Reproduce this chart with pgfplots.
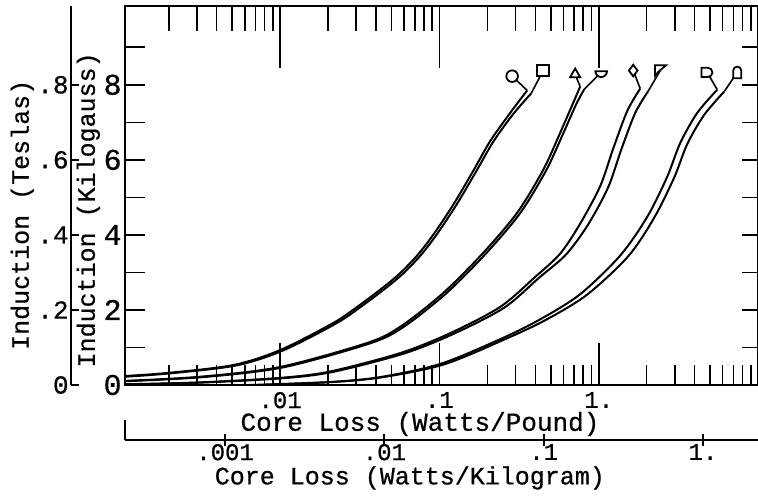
\documentclass[border=0pt]{standalone}
\usepackage{fontspec}
\setmainfont{Liberation Mono}[FakeBold=0.6]
\usepackage{pgfplots}
\pgfplotsset{compat=1.18}
\pgfdeclareplotmark{semi}{%
  \pgfpathmoveto{\pgfqpoint{-\pgfplotmarksize}{0.2\pgfplotmarksize}}%
  \pgfpathlineto{\pgfqpoint{\pgfplotmarksize}{0.2\pgfplotmarksize}}%
  \pgfpatharc{0}{-180}{\pgfplotmarksize}%
  \pgfpathclose
  \pgfusepathqfillstroke}
\pgfdeclareplotmark{dshape}{%
  \pgfpathmoveto{\pgfqpoint{-\pgfplotmarksize}{0.8\pgfplotmarksize}}%
  \pgfpathlineto{\pgfqpoint{0.1\pgfplotmarksize}{0.8\pgfplotmarksize}}%
  \pgfpatharc{90}{-90}{0.8\pgfplotmarksize}%
  \pgfpathlineto{\pgfqpoint{-\pgfplotmarksize}{-0.8\pgfplotmarksize}}%
  \pgfpathclose
  \pgfusepathqfillstroke}
\pgfdeclareplotmark{roundtop}{%
  \pgfpathmoveto{\pgfqpoint{-0.7\pgfplotmarksize}{-\pgfplotmarksize}}%
  \pgfpathlineto{\pgfqpoint{-0.7\pgfplotmarksize}{0.3\pgfplotmarksize}}%
  \pgfpatharc{180}{0}{0.7\pgfplotmarksize}%
  \pgfpathlineto{\pgfqpoint{0.7\pgfplotmarksize}{-\pgfplotmarksize}}%
  \pgfpathclose
  \pgfusepathqfillstroke}
\pgfdeclareplotmark{pennant}{%
  \pgfpathmoveto{\pgfqpoint{-0.9\pgfplotmarksize}{0.9\pgfplotmarksize}}%
  \pgfpathlineto{\pgfqpoint{\pgfplotmarksize}{0.9\pgfplotmarksize}}%
  \pgfpathlineto{\pgfqpoint{-0.3\pgfplotmarksize}{-0.2\pgfplotmarksize}}%
  \pgfpathlineto{\pgfqpoint{-0.9\pgfplotmarksize}{-0.9\pgfplotmarksize}}%
  \pgfpathclose
  \pgfusepathqfillstroke}
\tikzset{
  mycurve/.style={smooth, black, line width=1pt},
  mylead/.style={black, line width=0.8pt},
  mysym/.style={black, only marks, mark size=2.9pt, mark options={fill=white, line width=0.9pt}},
}
\begin{document}
\begin{tikzpicture}
\useasboundingbox (-62.5pt,-55.5pt) rectangle (316.5pt,192.5pt);
% main axis with data and bottom ticks
\begin{axis}[scale only axis, width=316.5pt, height=189.5pt,
  xmode=log, xmin=0.001063, xmax=10, ymin=0, ymax=10.1,
  axis line style={line width=1pt},
  tick style={line width=0.8pt, black}, tick align=inside,
  xtick={0.01,0.1,1}, xticklabels={.01,.1,1.}, xtick pos=left,
  minor xtick={0.002,0.003,0.004,0.005,0.006,0.007,0.008,0.009,0.02,0.03,0.04,0.05,0.06,0.07,0.08,0.09,0.2,0.3,0.4,0.5,0.6,0.7,0.8,0.9,2,3,4,5,6,7,8,9},
  ytick=\empty,
  major tick length=21pt, minor tick length=10pt,
  xticklabel style={font=\fontsize{12}{12}\selectfont},
  xlabel={Core Loss (Watts/Pound)},
  xlabel style={at={(axis description cs:0.466,-0.103)}, anchor=center, font=\fontsize{13}{15}\selectfont},
]
% pair 1
\addplot[mycurve] coordinates {(0.001063,0.24) (0.001952,0.32) (0.005068,0.53) (0.01,0.93) (0.02152,1.65) (0.03090,2.1) (0.04435,2.6) (0.05670,2.98) (0.07251,3.45) (0.09138,4.0) (0.1220,4.8) (0.1628,5.7) (0.2084,6.5) (0.2782,7.25) (0.3556,7.85)};
\addplot[mycurve] coordinates {(0.001063,0.22) (0.002039,0.31) (0.005294,0.52) (0.01044,0.92) (0.02247,1.64) (0.03226,2.09) (0.04631,2.59) (0.05922,2.97) (0.07571,3.44) (0.09541,3.99) (0.1274,4.79) (0.1701,5.69) (0.2176,6.48) (0.2906,7.22) (0.3768,7.77)};
% pair 2
\addplot[mycurve] coordinates {(0.001063,0.11) (0.003145,0.22) (0.01,0.48) (0.03518,1.12) (0.05670,1.55) (0.1056,2.45) (0.1883,3.52) (0.3078,4.59) (0.4482,5.73) (0.5729,6.72) (0.6917,7.52) (0.7653,7.95)};
\addplot[mycurve] coordinates {(0.001063,0.10) (0.003285,0.21) (0.01044,0.47) (0.03674,1.11) (0.05922,1.54) (0.1102,2.44) (0.1966,3.51) (0.3214,4.58) (0.4680,5.72) (0.5983,6.7) (0.7223,7.48) (0.8109,7.88)};
% pair 3
\addplot[mycurve] coordinates {(0.001063,0.02) (0.003145,0.07) (0.01,0.19) (0.02061,0.36) (0.05670,0.85) (0.1168,1.38) (0.2407,2.08) (0.3993,2.88) (0.5729,3.5) (0.7653,4.3) (1.0219,5.3) (1.2334,6.3) (1.5101,7.3) (1.8224,7.9)};
\addplot[mycurve] coordinates {(0.001063,0.01) (0.003237,0.065) (0.01044,0.18) (0.02152,0.35) (0.06009,0.84) (0.1238,1.37) (0.2550,2.06) (0.4230,2.86) (0.6248,3.48) (0.8592,4.28) (1.1472,5.27) (1.3847,6.27) (1.6953,7.25) (2.0455,7.83)};
% pair 4
\addplot[mycurve] coordinates {(0.006479,0) (0.02061,0.08) (0.04244,0.21) (0.1011,0.56) (0.2407,1.22) (0.4292,1.75) (0.7653,2.42) (1.3646,3.45) (2.0163,4.48) (2.6924,5.55) (3.2494,6.45) (4.1544,7.25) (5.5469,7.87)};
\addplot[mycurve] coordinates {(0.007709,0) (0.02152,0.08) (0.04435,0.21) (0.1071,0.55) (0.2550,1.21) (0.4680,1.74) (0.8467,2.41) (1.5320,3.43) (2.2316,4.46) (2.9790,5.53) (3.5950,6.42) (4.5974,7.2) (6.1383,7.82)};
% leaders
\addplot[mylead] coordinates {(0.2862,8.23) (0.3556,7.85)};
\addplot[mylead] coordinates {(0.4482,8.38) (0.3768,7.77)};
\addplot[mylead] coordinates {(0.7117,8.28) (0.7653,7.95)};
\addplot[mylead] coordinates {(1.0368,8.33) (0.8109,7.88)};
\addplot[mylead] coordinates {(1.6467,8.38) (1.8224,7.9)};
\addplot[mylead] coordinates {(2.4335,8.38) (2.0455,7.83)};
\addplot[mylead] coordinates {(4.800,8.33) (5.5469,7.87)};
\addplot[mylead] coordinates {(7.408,8.33) (6.1383,7.82)};
% symbols
\addplot[mysym, mark=*] coordinates {(0.2862,8.23)};
\addplot[mysym, mark=square*] coordinates {(0.4482,8.38)};
\addplot[mysym, mark=triangle*] coordinates {(0.7117,8.28)};
\addplot[mysym, mark=semi] coordinates {(1.0368,8.33)};
\addplot[mysym, mark=diamond*] coordinates {(1.6467,8.38)};
\addplot[mysym, mark=pennant] coordinates {(2.4335,8.38)};
\addplot[mysym, mark=dshape] coordinates {(4.800,8.33)};
\addplot[mysym, mark=roundtop] coordinates {(7.408,8.33)};
\end{axis}
% top ticks
\begin{axis}[scale only axis, width=316.5pt, height=189.5pt,
  xmode=log, xmin=0.001063, xmax=10, ymin=0, ymax=10.1,
  axis line style={line width=1pt},
  tick style={line width=0.8pt, black}, tick align=inside,
  hide y axis,
  xtick={0.01,0.1,1}, xticklabels={,,}, xtick pos=right,
  xticklabel style={yshift=-90pt},
  minor xtick={0.002,0.003,0.004,0.005,0.006,0.007,0.008,0.009,0.02,0.03,0.04,0.05,0.06,0.07,0.08,0.09,0.2,0.3,0.4,0.5,0.6,0.7,0.8,0.9,2,3,4,5,6,7,8,9},
  major tick length=31pt, minor tick length=12.5pt]
\addplot[draw=none] coordinates {(1,1)};
\end{axis}
% left y ticks (kilogauss)
\begin{axis}[scale only axis, width=316.5pt, height=189.5pt,
  xmin=0, xmax=1, ymin=0, ymax=10.1,
  axis line style={line width=1pt},
  tick style={line width=0.8pt, black}, tick align=inside,
  hide x axis,
  ytick={0,2,4,6,8}, yticklabels={0,2,4,6,8}, minor ytick={1,3,5,7,9},
  ytick pos=left, major tick length=10pt, minor tick length=10pt,
  yticklabel style={font=\fontsize{15}{15}\selectfont, inner xsep=1.5pt},
  ylabel={Induction (Kilogauss)},
  ylabel style={at={(axis description cs:-0.058,0.462)}, anchor=center, font=\fontsize{12.5}{14}\selectfont}]
\addplot[draw=none] coordinates {(0.5,1)};
\end{axis}
% right y ticks
\begin{axis}[scale only axis, width=316.5pt, height=189.5pt,
  xmin=0, xmax=1, ymin=0, ymax=10.1,
  axis line style={line width=1pt},
  tick style={line width=0.8pt, black}, tick align=inside,
  hide x axis,
  ytick={1,2,3,4,5,6,7,8,9}, yticklabels={,,,,,,,,}, ytick pos=right,
  yticklabel style={xshift=-120pt},
  major tick length=8pt]
\addplot[draw=none] coordinates {(0.5,1)};
\end{axis}
% Teslas axis
\begin{axis}[scale only axis, width=316.5pt, height=189.5pt, at={(-27pt,0pt)},
  ymin=0, ymax=1.01, xmin=0, xmax=1,
  hide x axis, axis y line=left, y axis line style={-, line width=1pt},
  ytick={0,0.2,0.4,0.6,0.8}, yticklabels={0,.2,.4,.6,.8},
  tick align=inside, major tick length=4pt, tick style={line width=0.9pt, black},
  yticklabel style={font=\fontsize{13}{13}\selectfont, inner xsep=1pt},
  ylabel={Induction (Teslas)},
  ylabel style={at={(axis description cs:-0.077,0.449)}, anchor=center, font=\fontsize{12.5}{14}\selectfont}]
\addplot[draw=none] coordinates {(0.5,0.5)};
\end{axis}
% Kilogram axis
\begin{axis}[scale only axis, width=316.5pt, height=189.5pt, at={(0pt,-27.5pt)},
  xmode=log, xmin=0.0002354, xmax=2.215, ymin=0, ymax=1,
  hide y axis, axis x line=bottom, x axis line style={-, line width=1pt},
  xtick={0.001,0.01,0.1,1}, xticklabels={.001,.01,.1,1.},
  tick align=center, major tick length=6pt, minor tick length=0pt,
  tick style={line width=0.9pt, black},
  extra x ticks={0.0002354}, extra x tick labels={},
  extra x tick style={tick align=inside, major tick length=10pt},
  xticklabel style={font=\fontsize{12}{12}\selectfont, yshift=4.5pt},
  xlabel={Core Loss (Watts/Kilogram)},
  xlabel style={at={(axis description cs:0.450,-0.100)}, anchor=center, font=\fontsize{12.5}{14}\selectfont}]
\addplot[draw=none] coordinates {(0.01,0.5)};
\end{axis}
\end{tikzpicture}
\end{document}
